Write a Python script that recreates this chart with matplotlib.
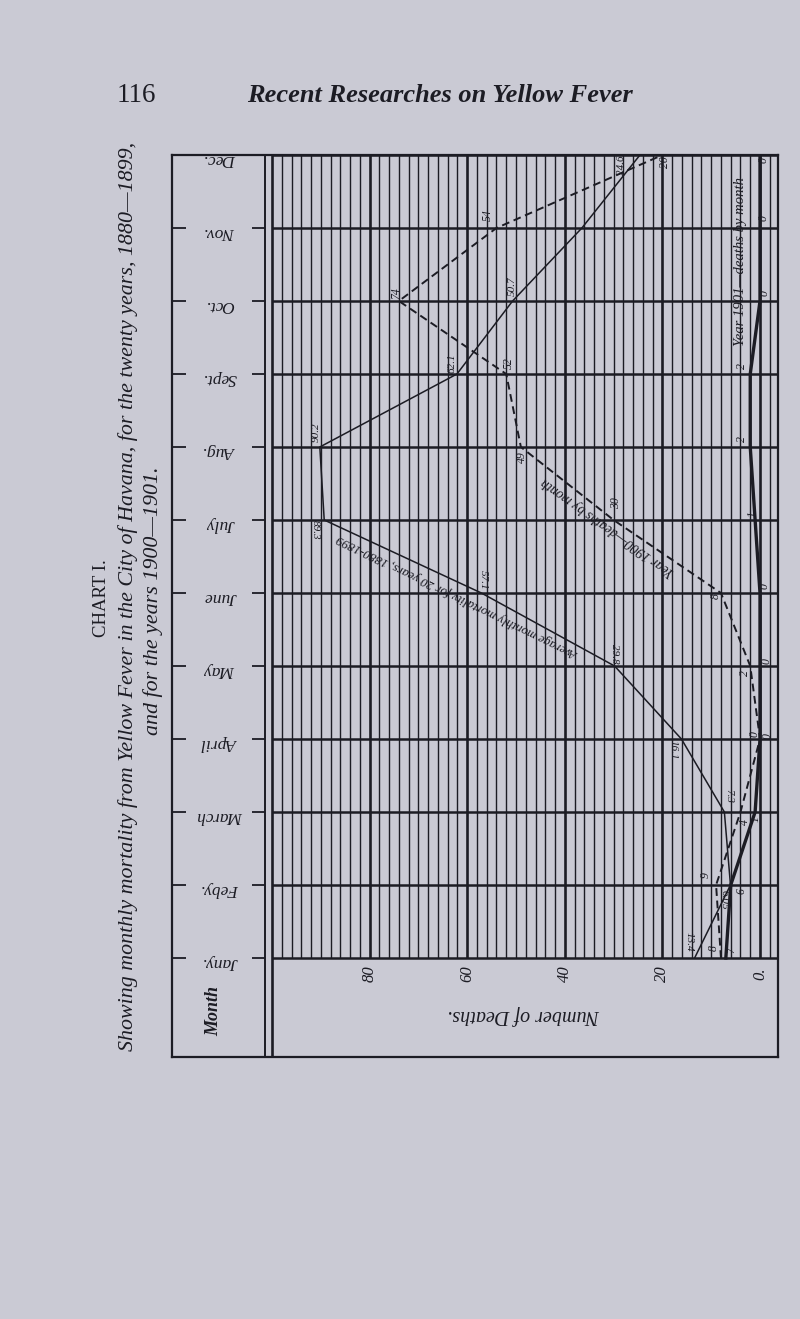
import matplotlib
matplotlib.use("Agg")
import matplotlib.pyplot as plt
import numpy as np

# ---------------- data ----------------
months = ["Jany.", "Feby.", "March", "April", "May", "June",
          "July", "Aug.", "Sept.", "Oct.", "Nov.", "Dec."]
avg_1880_1899 = [13.4, 6.05, 7.3, 16.1, 29.8, 57.1, 89.3, 90.2, 62.1, 50.7, 36.5, 24.6]
avg_labels = ["13.4", "6.05", "7.3", "16.1", "29.8", "57.1", "89.3",
              "90.2", "62.1", "50.7", "", "24.6"]
deaths_1900 = [8, 9, 4, 0, 2, 8, 30, 49, 52, 74, 54, 20]
deaths_1901 = [7, 6, 1, 0, 0, 0, 1, 2, 2, 0, 0, 0]
death_ticks = [0, 20, 40, 60, 80]
death_tick_labels = ["0.", "20", "40", "60", "80"]

# ---------------- style ----------------
BG = "#cacad4"
INK = "#1c1c24"
SERIF = ["Liberation Serif", "DejaVu Serif"]
W, H = 800, 1319

fig = plt.figure(figsize=(8, 13.19), dpi=100, facecolor=BG)


def fx(px):
    return px / W


def fy(py):
    return 1 - py / H


# layout of the (rotated) chart on the page, in pixels
X0PX, SCALE = 760.0, 4.88       # x-pixel of zero deaths, pixels per death
TOP_PX, MONTH_PX = 155.0, 73.0  # y-pixel of Dec. line, pixels per month
left_px, right_px, bottom_px = 172, 778, 1057
d_left = (X0PX - left_px) / SCALE
d_right = (X0PX - right_px) / SCALE
y_bottom = -(bottom_px - (TOP_PX + 11 * MONTH_PX)) / MONTH_PX

ax = fig.add_axes([fx(left_px), fy(bottom_px),
                   (right_px - left_px) / W, (bottom_px - TOP_PX) / H])
ax.set_xlim(d_left, d_right)
ax.set_ylim(y_bottom, 11)
ax.set_facecolor(BG)
ax.set_xticks([])
ax.set_yticks([])
for s in ax.spines.values():
    s.set_linewidth(1.6)
    s.set_color(INK)

ypos = np.arange(len(months))

# ---------------- grid ----------------
for d in range(-2, 101, 2):
    heavy = d % 20 == 0
    ymin = y_bottom if d == 100 else 0
    ax.vlines(d, ymin, 11, color=INK, lw=1.9 if heavy else 1.0)
ax.vlines(101.4, y_bottom, 11, color=INK, lw=1.4)
ax.hlines(ypos, 100, d_right, color=INK, lw=1.8)

# month column ticks and labels
ax.hlines(ypos, d_left, d_left - 2.8, color=INK, lw=1.3)
ax.hlines(ypos, 104.0, 101.4, color=INK, lw=1.3)
for y, m in zip(ypos, months):
    ax.text(110.7, y - 0.05, m, rotation=180, ha="center", va="center",
            fontsize=12.5, style="italic", family=SERIF, color=INK)
ax.text(112.0, -0.72, "Month", rotation=90, ha="center", va="center",
        fontsize=13, style="italic", weight="bold", family=SERIF, color=INK)

# number axis
for d, lab in zip(death_ticks, death_tick_labels):
    ax.text(d, -0.22, lab, rotation=90, ha="center", va="center",
            fontsize=12, style="italic", family=SERIF, color=INK)
ax.text((X0PX - 524) / SCALE, -0.78, "Number of Deaths.", rotation=180,
        ha="center", va="center", fontsize=14.5, style="italic",
        family=SERIF, color=INK)

# ---------------- series ----------------
ax.plot(avg_1880_1899, ypos, color=INK, lw=1.1, solid_joinstyle="miter")
ax.plot(deaths_1900, ypos, color=INK, lw=1.4, ls=(0, (4, 2.4)))
ax.plot(deaths_1901, ypos, color=INK, lw=2.4)

PT = 0.72  # points per pixel


def label(series, texts, offsets, rots, size=8.5):
    for v, y, t, off, r in zip(series, ypos, texts, offsets, rots):
        if not t:
            continue
        ax.annotate(t, (v, y), xytext=(off[0] * PT, -off[1] * PT),
                    textcoords="offset points", rotation=r,
                    ha="center", va="center", fontsize=size,
                    style="italic", family=SERIF, color=INK)


avg_off = [(-5, -16), (-6, 15), (4, -16), (-8, 11), (0, -12), (2, -13),
           (-9, 10), (-4, -15), (-5, -11), (0, -15), (0, 0), (-18, 10)]
avg_rot = [270] * 7 + [90] * 5
label(avg_1880_1899, avg_labels, avg_off, avg_rot, size=8)

off_1900 = [(-7, -10), (-10, -10), (4, 10), (-5, -5), (-5, 7), (-5, 3),
            (2, -17), (1, 10), (3, -11), (-3, -8), (-9, -13), (3, 7)]
label(deaths_1900, [str(v) for v in deaths_1900], off_1900, [90] * 12)

off_1901 = [(5, -8), (11, 6), (0, 7), (8, -3), (7, -5), (5, -7),
            (-3, -6), (-8, -8), (-8, -8), (5, -8), (4, -10), (4, 5)]
label(deaths_1901, [str(v) for v in deaths_1901], off_1901, [90] * 12)

# series captions along the lines
ax.text((X0PX - 458) / SCALE, 11 - (596 - TOP_PX) / MONTH_PX,
        "Average monthly mortality for 20 years, 1880-1899",
        rotation=154, rotation_mode="anchor", ha="center", va="center",
        fontsize=9.3, style="italic", family=SERIF, color=INK)
ax.text((X0PX - 608) / SCALE, 11 - (527 - TOP_PX) / MONTH_PX,
        "Year 1900\u2014deaths by month",
        rotation=144.5, rotation_mode="anchor", ha="center", va="center",
        fontsize=10, style="italic", family=SERIF, color=INK)
ax.text((X0PX - 741) / SCALE, 11 - (262 - TOP_PX) / MONTH_PX,
        "Year 1901\u2014deaths by month",
        rotation=90, rotation_mode="anchor", ha="center", va="center",
        fontsize=10.5, style="italic", family=SERIF, color=INK)

# ---------------- page texts ----------------
fig.text(fx(136), fy(96), "116", ha="center", va="center",
         fontsize=19.5, family=SERIF, color=INK)
fig.text(fx(440), fy(96), "Recent Researches on Yellow Fever",
         ha="center", va="center", fontsize=19, style="italic",
         weight="bold", family=SERIF, color=INK)
fig.text(fx(101), fy(598), "CHART I.", rotation=90, ha="center",
         va="center", fontsize=13.5, family=SERIF, color=INK)
fig.text(fx(128), fy(596),
         "Showing monthly mortality from Yellow Fever in the City of Havana, "
         "for the twenty years, 1880\u20141899,",
         rotation=90, ha="center", va="center", fontsize=15.8,
         style="italic", family=SERIF, color=INK)
fig.text(fx(153), fy(601), "and for the years 1900\u20141901.",
         rotation=90, ha="center", va="center", fontsize=15.8,
         style="italic", family=SERIF, color=INK)

fig.savefig("out.png", dpi=100, facecolor=BG)
